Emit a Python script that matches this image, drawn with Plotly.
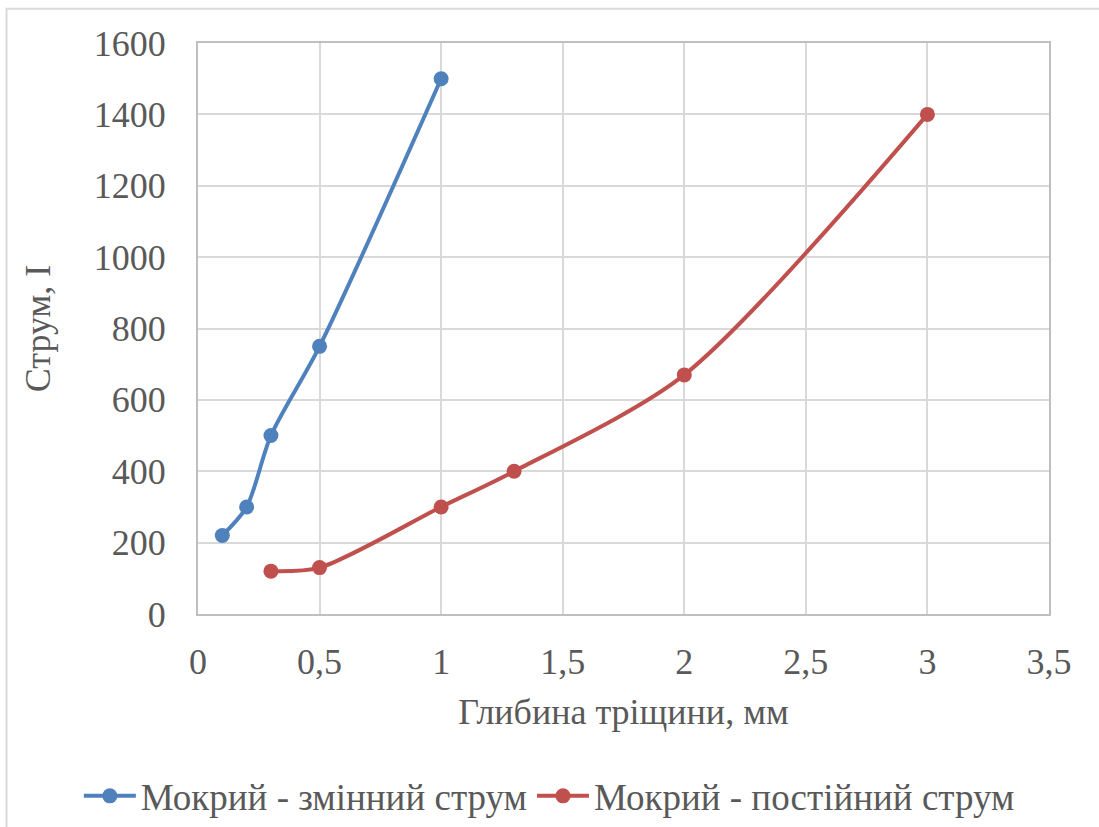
import plotly.graph_objects as go

x_ac = [0.1, 0.2, 0.3, 0.5, 1.0]
y_ac = [220, 300, 500, 750, 1500]
x_dc = [0.3, 0.5, 1.0, 1.3, 2.0, 3.0]
y_dc = [120, 130, 300, 400, 670, 1400]
name_ac = "Мокрий - змінний струм"
name_dc = "Мокрий - постійний струм"
x_title = "Глибина тріщини, мм"
y_title = "Струм, I"
x_ticks = [0, 0.5, 1, 1.5, 2, 2.5, 3, 3.5]
x_ticktext = ["0", "0,5", "1", "1,5", "2", "2,5", "3", "3,5"]
y_ticks = [0, 200, 400, 600, 800, 1000, 1200, 1400, 1600]

FONT = "Liberation Serif, Times New Roman, serif"
TXT = "#595959"
FS = 36

fig = go.Figure()
fig.add_trace(go.Scatter(x=x_ac, y=y_ac, name=name_ac, mode="lines+markers",
                         line=dict(color="#4F81BD", width=4, shape="spline", smoothing=0.8),
                         marker=dict(size=15, color="#4F81BD")))
fig.add_trace(go.Scatter(x=x_dc, y=y_dc, name=name_dc, mode="lines+markers",
                         line=dict(color="#C0504D", width=4, shape="spline", smoothing=0.8),
                         marker=dict(size=15, color="#C0504D")))

fig.update_layout(
    width=1099, height=827,
    paper_bgcolor="white", plot_bgcolor="white",
    margin=dict(l=198, r=50, t=43, b=213, autoexpand=False),
    font=dict(family=FONT, color=TXT, size=FS),
    showlegend=True,
    legend=dict(orientation="h", x=-0.14, xanchor="left", y=-0.265, yanchor="top",
                font=dict(size=37, family=FONT, color=TXT), itemwidth=52,
                tracegroupgap=0),
    shapes=[dict(type="rect", xref="paper", yref="paper", x0=-0.225, x1=1.2, y0=-0.6, y1=1.06,
                 line=dict(color="#D9D9D9", width=2), layer="below")],
)
fig.update_xaxes(range=[0, 3.5], tickvals=x_ticks, ticktext=x_ticktext,
                 showgrid=True, gridcolor="#D9D9D9", gridwidth=2,
                 showline=True, linecolor="#BFBFBF", linewidth=2, mirror=True,
                 zeroline=False, ticks="", ticklabelstandoff=15,
                 title=dict(text=x_title, font=dict(size=FS, family=FONT, color=TXT), standoff=18),
                 tickfont=dict(size=FS, family=FONT, color=TXT))
fig.update_yaxes(range=[0, 1600], tickvals=y_ticks,
                 showgrid=True, gridcolor="#D9D9D9", gridwidth=2,
                 showline=True, linecolor="#BFBFBF", linewidth=2, mirror=True,
                 zeroline=False, ticks="", ticklabelstandoff=23,
                 title=dict(text=y_title, font=dict(size=FS, family=FONT, color=TXT), standoff=32),
                 tickfont=dict(size=FS, family=FONT, color=TXT))

fig.write_html("out.html")
